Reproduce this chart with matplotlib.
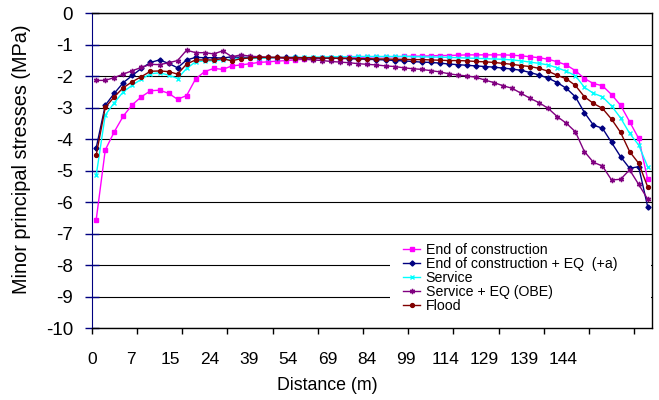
import matplotlib
matplotlib.use("Agg")
import matplotlib.pyplot as plt
from matplotlib.patches import Rectangle

plt.rcParams['font.family'] = ['Liberation Sans', 'DejaVu Sans']
plt.rcParams['axes.unicode_minus'] = False

# distance labels shown under the axis (one every few nodes)
dist_labels = ['0', '7', '15', '24', '39', '54', '69', '84', '99', '114', '129', '139', '144']

# minor principal stresses (MPa) at the 62 nodes along the section
end_constr = [-6.55, -4.34, -3.76, -3.26, -2.90, -2.65, -2.46, -2.44, -2.54, -2.73,
              -2.61, -2.08, -1.85, -1.75, -1.78, -1.67, -1.64, -1.60, -1.56,
              -1.54, -1.52, -1.50, -1.48, -1.46, -1.44, -1.43, -1.42, -1.41, -1.40,
              -1.40, -1.39, -1.38, -1.38, -1.38, -1.37, -1.36, -1.36, -1.35, -1.34, -1.34,
              -1.33, -1.32, -1.32, -1.32, -1.32, -1.32, -1.33, -1.35, -1.38, -1.41,
              -1.46, -1.54, -1.64, -1.82, -2.07, -2.23, -2.30, -2.58, -2.92, -3.44,
              -3.97, -5.27]
end_constr_eq = [-4.27, -2.92, -2.54, -2.20, -1.97, -1.75, -1.56, -1.48, -1.59, -1.73,
                 -1.48, -1.40, -1.41, -1.41, -1.42, -1.38, -1.40, -1.40, -1.40,
                 -1.40, -1.40, -1.40, -1.40, -1.41, -1.41, -1.42, -1.42, -1.43, -1.44,
                 -1.45, -1.46, -1.47, -1.48, -1.50, -1.51, -1.53, -1.55, -1.56, -1.58, -1.61,
                 -1.63, -1.65, -1.67, -1.69, -1.71, -1.74, -1.77, -1.81, -1.88, -1.96,
                 -2.06, -2.20, -2.38, -2.65, -3.15, -3.55, -3.65, -4.10, -4.55, -4.92,
                 -4.87, -6.14]
service = [-5.14, -3.23, -2.84, -2.49, -2.28, -2.09, -1.92, -1.89, -1.96, -2.07,
           -1.75, -1.54, -1.51, -1.51, -1.48, -1.46, -1.43, -1.43, -1.43,
           -1.42, -1.41, -1.41, -1.40, -1.40, -1.39, -1.39, -1.38, -1.38, -1.38,
           -1.37, -1.37, -1.37, -1.37, -1.37, -1.37, -1.38, -1.38, -1.39, -1.39, -1.40,
           -1.41, -1.42, -1.43, -1.44, -1.45, -1.46, -1.48, -1.51, -1.55, -1.59,
           -1.64, -1.73, -1.84, -1.98, -2.35, -2.54, -2.65, -2.94, -3.32, -3.81,
           -4.18, -4.87]
service_eq = [-2.13, -2.13, -2.04, -1.93, -1.82, -1.72, -1.62, -1.63, -1.57, -1.50,
              -1.17, -1.25, -1.25, -1.29, -1.19, -1.38, -1.32, -1.36, -1.38,
              -1.40, -1.41, -1.43, -1.44, -1.46, -1.48, -1.50, -1.53, -1.55, -1.57,
              -1.60, -1.62, -1.64, -1.67, -1.69, -1.73, -1.76, -1.78, -1.82, -1.86, -1.92,
              -1.96, -1.99, -2.03, -2.12, -2.20, -2.30, -2.38, -2.54, -2.70, -2.84,
              -3.02, -3.28, -3.49, -3.76, -4.39, -4.73, -4.85, -5.29, -5.27, -4.97,
              -5.43, -5.90]
flood = [-4.50, -2.99, -2.65, -2.36, -2.17, -2.01, -1.84, -1.83, -1.85, -1.93,
         -1.61, -1.48, -1.48, -1.48, -1.44, -1.51, -1.44, -1.42, -1.40,
         -1.40, -1.40, -1.41, -1.41, -1.41, -1.41, -1.42, -1.42, -1.43, -1.43,
         -1.44, -1.44, -1.45, -1.45, -1.46, -1.46, -1.47, -1.47, -1.48, -1.49, -1.50,
         -1.50, -1.51, -1.53, -1.54, -1.56, -1.59, -1.62, -1.66, -1.69, -1.75,
         -1.84, -1.97, -2.08, -2.29, -2.65, -2.86, -3.02, -3.36, -3.78, -4.39,
         -4.76, -5.51]

series = [
    ("End of construction", end_constr, '#FF00FF', 's', 2.8),
    ("End of construction + EQ  (+a)", end_constr_eq, '#000080', 'D', 2.6),
    ("Service", service, '#00FFFF', 'x', 3.2),
    ("Service + EQ (OBE)", service_eq, '#800080', (6, 2, 0), 3.8),
    ("Flood", flood, '#800000', 'o', 2.8),
]

W, H = 659, 400
fig = plt.figure(figsize=(W / 100, H / 100), dpi=100)
ax_l, ax_r, ax_t, ax_b = 91.7, 652.2, 13.3, 328.3
ax = fig.add_axes([ax_l / W, 1 - ax_b / H, (ax_r - ax_l) / W, (ax_b - ax_t) / H])

n = len(end_constr)
x = list(range(n))
for name, vals, col, mk, ms in series:
    ax.plot(x, vals, color=col, lw=1.0, marker=mk, ms=ms, mew=1.0,
            mfc=col, mec=col, label=name, zorder=3)

ax.set_xlim(-0.5, n - 0.5)
ax.set_ylim(-10, 0)

# horizontal gridlines
ax.set_yticks(range(-10, 1))
ax.yaxis.grid(True, color='black', lw=0.8)
ax.set_axisbelow(True)

# y axis
ax.spines['left'].set_color('#000080')
ax.tick_params(axis='y', direction='inout', length=10, width=1, color='#000080',
               labelsize=13.5, pad=8.5)

# x axis: tick marks every 5 nodes, distance labels on their own spots
ax.xaxis.remove_overlapping_locs = False
ax.set_xticks([-0.5 + 5 * k for k in range(13)])
ax.set_xticklabels([])
ax.tick_params(axis='x', which='major', direction='out', length=4, width=1, color='black')
lab_pos = [-0.5 + 4.347 * k for k in range(len(dist_labels))]
ax.set_xticks(lab_pos, minor=True)
ax.set_xticklabels(dist_labels, minor=True)
ax.tick_params(axis='x', which='minor', length=0, labelsize=12.5, pad=17)

for s in ['top', 'right', 'bottom']:
    ax.spines[s].set_color('black')
    ax.spines[s].set_linewidth(1)

# white block behind the legend hides the gridlines there
lx0 = (390 - ax_l) / (ax_r - ax_l)
ly1 = (ax_b - 241) / (ax_b - ax_t)
ax.add_patch(Rectangle((lx0, 0.002), 1 - lx0 - 0.002, ly1, transform=ax.transAxes,
                       facecolor='white', edgecolor='none', zorder=1))

ax.legend(loc='upper left', bbox_to_anchor=(403 / W, 1 - 243 / H),
          bbox_transform=fig.transFigure, frameon=False, borderpad=0,
          borderaxespad=0, handlelength=1.2, handletextpad=0.4,
          labelspacing=0.0, fontsize=10.2)

fig.text(22 / W, 1 - 159 / H, 'Minor principal stresses (MPa)', rotation=90,
         ha='center', va='center', fontsize=14.3)
fig.text(327 / W, 1 - 385 / H, 'Distance (m)', ha='center', va='center', fontsize=12.8)

fig.savefig('out.png', dpi=100)
